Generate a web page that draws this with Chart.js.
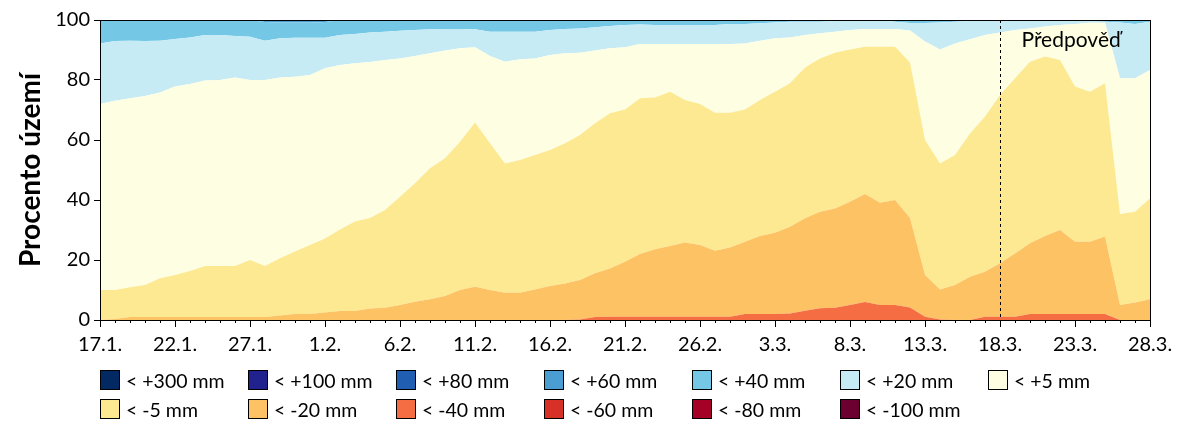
<!DOCTYPE html>
<html>
<head>
<meta charset="utf-8">
<script src="https://cdn.jsdelivr.net/npm/chart.js@4.4.1/dist/chart.umd.min.js"></script>
<style>
  body { margin: 0; background: #fff; }
  #wrap { position: relative; width: 1200px; height: 430px; }
  #legend { position: absolute; left: 100px; top: 370px; display: grid; grid-template-columns: repeat(7, 148px); row-gap: 9px; font-family: Lato, sans-serif; font-size: 19.5px; color: #000; }
  .item { display: flex; align-items: center; height: 20px; white-space: nowrap; }
  .box { width: 18px; height: 18px; border: 1px solid #000; margin-right: 6px; flex: none; }
</style>
</head>
<body>
<div id="wrap">
  <canvas id="chart"></canvas>
  <div id="legend"></div>
</div>
<script>
// dny 17.1. - 28.3.
const days = [
  '17.1.','18.1.','19.1.','20.1.','21.1.','22.1.','23.1.','24.1.','25.1.','26.1.','27.1.','28.1.','29.1.','30.1.','31.1.',
  '1.2.','2.2.','3.2.','4.2.','5.2.','6.2.','7.2.','8.2.','9.2.','10.2.','11.2.','12.2.','13.2.','14.2.','15.2.',
  '16.2.','17.2.','18.2.','19.2.','20.2.','21.2.','22.2.','23.2.','24.2.','25.2.','26.2.','27.2.','28.2.',
  '1.3.','2.3.','3.3.','4.3.','5.3.','6.3.','7.3.','8.3.','9.3.','10.3.','11.3.','12.3.','13.3.','14.3.','15.3.',
  '16.3.','17.3.','18.3.','19.3.','20.3.','21.3.','22.3.','23.3.','24.3.','25.3.','26.3.','27.3.','28.3.'
];
const forecastStart = '18.3.';

// procento uzemi pod danou hranici (kumulativne)
const below_m100 = days.map(() => 0);
const below_m80 = days.map(() => 0);
const below_m60 = days.map(() => 0);
const below_m40 = [
  0, 0, 0, 0, 0, 0, 0, 0, 0, 0, 0, 0, 0, 0, 0, 0, 0, 0, 0, 0,
  0, 0, 0, 0, 0, 0, 0, 0, 0, 0, 0, 0, 0.2, 1, 1.1, 1.1, 1.1, 1.1, 1.1, 1.1,
  1.1, 1.1, 1.1, 2, 2, 2, 2.2, 3.1, 3.9, 4.1, 5, 6, 5, 5, 4.2, 1.1, 0.2, 0, 0, 1.1,
  1.1, 1.1, 2, 2, 2, 2, 2, 2, 0, 0, 0
];
const below_m20 = [
  0, 0.3, 1, 1, 1, 1, 1, 1, 1, 1, 1, 1, 1.5, 2, 2, 2.5, 3, 3, 3.8, 4.1,
  5, 6.1, 6.9, 8, 10, 11.1, 10, 9.1, 9.1, 10.2, 11.3, 12.2, 13.3, 15.6, 17.2, 19.4, 22, 23.6, 24.7, 25.8,
  25, 23.1, 24.2, 26.1, 28, 29.1, 31.1, 33.9, 36.1, 37.2, 39.4, 42, 39.1, 40, 34, 15, 10.2, 11.7, 14.4, 16.1,
  18.9, 22.2, 25.6, 28, 30, 26.1, 26.1, 27.8, 5, 5.8, 6.9
];
const below_m5 = [
  10, 10, 10.9, 11.7, 13.9, 15, 16.3, 18, 18, 18, 20, 18, 20.6, 22.8, 25, 27.2, 30.2, 32.8, 34, 36.7,
  41.1, 45.6, 50.6, 53.9, 59.4, 65.8, 58.9, 52.2, 53.3, 55, 56.7, 58.9, 61.7, 65.6, 68.9, 70.2, 73.9, 74.2, 76.1, 73.3,
  72, 69.1, 69.1, 70.2, 73.3, 76.1, 78.9, 84.2, 87.2, 89.1, 90.2, 91.1, 91.1, 91.1, 85.8, 60, 52.2, 55, 62.2, 67.8,
  75, 80.6, 86.1, 87.8, 86.7, 77.8, 76.1, 78.9, 35.3, 36.1, 40.6
];
const below_p5 = [
  72, 73.1, 73.9, 74.7, 75.8, 77.8, 78.7, 79.8, 80, 80.8, 80, 80, 80.8, 81.1, 81.7, 83.9, 85, 85.6, 86, 86.7,
  87.2, 88, 88.9, 89.8, 90.6, 90.9, 88, 86.1, 86.9, 87.2, 88.3, 88.9, 89.1, 89.8, 90.6, 90.9, 92, 92, 92, 92,
  92, 92, 92, 92.2, 93.1, 93.9, 94.2, 95, 95.6, 96.1, 96.7, 97, 97, 97, 96.5, 92.8, 90.2, 92.2, 93.6, 95,
  95.8, 96.7, 97.2, 97.8, 98.3, 98.7, 99.1, 99.1, 80.6, 80.6, 83.3
];
const below_p20 = [
  92.2, 93, 93.1, 93, 93.1, 93.7, 94.2, 95, 95, 94.7, 94.4, 93.1, 93.9, 94.1, 94.1, 94.1, 95, 95.3, 95.8, 96.1,
  96.4, 96.7, 96.9, 97, 97, 96.9, 96.1, 96.1, 96.1, 96.1, 96.7, 97, 97.2, 97.6, 98, 98.3, 98.5, 98.3, 98.3, 98.3,
  98.3, 98.3, 98.7, 98.7, 98.9, 99.2, 99.4, 99.4, 99.4, 99.7, 100, 100, 100, 99.4, 99, 99, 99.2, 99.4, 99.7, 99.8,
  99.8, 99.8, 99.8, 99.8, 99.8, 99.8, 99.6, 99.4, 99.2, 98.7, 99.4
];
const below_p40 = [
  100, 100, 100, 100, 100, 100, 100, 100, 100, 100, 100, 99.3, 99.2, 99.2, 99.2, 99.3, 100, 100, 100, 100,
  100, 100, 100, 100, 100, 100, 100, 100, 100, 100, 100, 100, 100, 100, 100, 100, 100, 100, 100, 100,
  100, 100, 100, 100, 100, 100, 100, 100, 100, 100, 100, 100, 100, 100, 100, 100, 100, 100, 100, 100,
  100, 100, 100, 100, 100, 100, 100, 100, 100, 100, 100
];
const below_p60 = days.map(() => 100);
const below_p80 = days.map(() => 100);
const below_p100 = days.map(() => 100);
const below_p300 = days.map(() => 100);

// vrstvy odspodu nahoru
const series = [
  { label: '< -100 mm', data: below_m100, color: '#6b0030' },
  { label: '< -80 mm', data: below_m80, color: '#a50026' },
  { label: '< -60 mm', data: below_m60, color: '#d73027' },
  { label: '< -40 mm', data: below_m40, color: '#f46d43' },
  { label: '< -20 mm', data: below_m20, color: '#fcc263' },
  { label: '< -5 mm', data: below_m5, color: '#fde991' },
  { label: '< +5 mm', data: below_p5, color: '#fefee2' },
  { label: '< +20 mm', data: below_p20, color: '#c6ebf5' },
  { label: '< +40 mm', data: below_p40, color: '#74c8e6' },
  { label: '< +60 mm', data: below_p60, color: '#4a9ed2' },
  { label: '< +80 mm', data: below_p80, color: '#1f5eb1' },
  { label: '< +100 mm', data: below_p100, color: '#22228f' },
  { label: '< +300 mm', data: below_p300, color: '#032962' }
];

const FONT = 'Lato, sans-serif';

// ramecek, vedlejsi znacky osy x, hranice predpovedi
const extras = {
  id: 'extras',
  afterDraw(chart) {
    const ctx = chart.ctx;
    const a = chart.chartArea;
    const x = chart.scales.x;
    ctx.save();
    ctx.strokeStyle = '#000';
    ctx.lineWidth = 1;
    ctx.strokeRect(Math.round(a.left) + 0.5, Math.round(a.top) + 0.5, Math.round(a.right - a.left), Math.round(a.bottom - a.top));
    ctx.beginPath();
    days.forEach((d, i) => {
      if (i % 5 === 0) return;
      const px = Math.round(x.getPixelForValue(i)) + 0.5;
      ctx.moveTo(px, a.bottom);
      ctx.lineTo(px, a.bottom + 3);
    });
    ctx.stroke();

    const fx = Math.round(x.getPixelForValue(days.indexOf(forecastStart))) + 0.5;
    ctx.setLineDash([3, 3]);
    ctx.beginPath();
    ctx.moveTo(fx, a.top);
    ctx.lineTo(fx, a.bottom);
    ctx.stroke();
    ctx.setLineDash([]);
    ctx.fillStyle = '#000';
    ctx.font = '21px ' + FONT;
    ctx.textBaseline = 'alphabetic';
    ctx.fillText('Předpověď', fx + 21, 47);
    ctx.restore();
  }
};

new Chart(document.getElementById('chart'), {
  type: 'line',
  data: {
    labels: days,
    datasets: series.map((s, i) => ({
      label: s.label,
      data: s.data,
      backgroundColor: s.color,
      borderWidth: 0,
      pointRadius: 0,
      tension: 0,
      fill: i === 0 ? 'origin' : '-1'
    }))
  },
  options: {
    responsive: true,
    maintainAspectRatio: false,
    animation: false,
    layout: { padding: { left: 14, right: 50, top: 20, bottom: 0 } },
    plugins: {
      legend: { display: false },
      tooltip: { enabled: false }
    },
    scales: {
      x: {
        afterFit: (s) => { s.height = 110; },
        grid: {
          drawOnChartArea: false,
          tickLength: 7,
          tickColor: (c) => (c.index % 5 === 0 ? '#000' : 'rgba(0,0,0,0)')
        },
        border: { color: '#000' },
        ticks: {
          autoSkip: false,
          maxRotation: 0,
          padding: 6,
          color: '#000',
          font: { family: FONT, size: 20 },
          callback: (v, i) => (i % 5 === 0 ? days[i] : '')
        }
      },
      y: {
        min: 0,
        max: 100,
        afterFit: (s) => { s.width = 86; },
        grid: { drawOnChartArea: false, tickLength: 6, tickColor: '#000' },
        border: { color: '#000' },
        ticks: { stepSize: 20, padding: 4, color: '#000', font: { family: FONT, size: 20 } },
        title: {
          display: true,
          text: 'Procento území',
          color: '#000',
          font: { family: FONT, size: 28, weight: 'bold' },
          padding: { top: 0, bottom: 0 }
        }
      }
    }
  },
  plugins: [extras]
});

// legenda ve stejnem poradi jako v predloze
const legendOrder = series.slice(6).reverse().concat(series.slice(0, 6).reverse());
const legend = document.getElementById('legend');
legendOrder.forEach(s => {
  const item = document.createElement('div');
  item.className = 'item';
  item.innerHTML = '<span class="box" style="background:' + s.color + '"></span>' + s.label;
  legend.appendChild(item);
});
</script>
</body>
</html>
